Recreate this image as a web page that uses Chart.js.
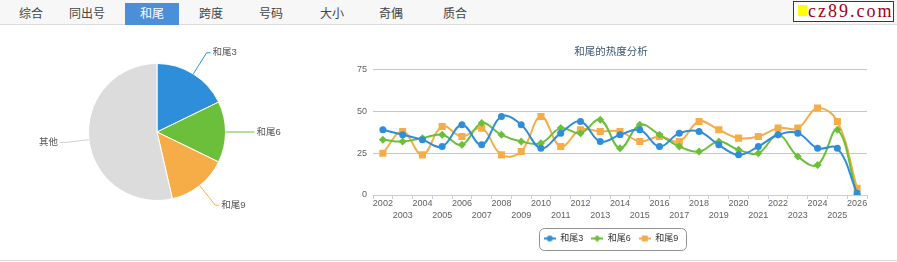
<!DOCTYPE html>
<html>
<head>
<meta charset="utf-8">
<script src="https://cdn.jsdelivr.net/npm/chart.js@4"></script>
<style>
  html, body { margin: 0; padding: 0; background: #fff; }
  body { width: 897px; height: 262px; position: relative; overflow: hidden;
         font-family: "Liberation Sans", "Noto Sans CJK SC", sans-serif; }
  #tabs { position: absolute; left: 0; top: 0; width: 897px; height: 24px;
          background: #f7f7f7; border-bottom: 1px solid #dcdcdc; }
  .tab { position: absolute; top: 3px; height: 22px; line-height: 22px; width: 60px;
         text-align: center; font-size: 12px; color: #444; }
  .tab.active { background: #4a8fd8; color: #fff; width: 54px; }
  #logo { position: absolute; left: 793px; top: 1px; width: 101px; height: 21px; box-sizing: border-box;
          border: 1px solid #b0001e; background: #fff; }
  #logo i { position: absolute; left: 4px; top: 3px; width: 9px; height: 11px; background: #ffff00; }
  #logo span { position: absolute; left: 14px; top: -1px; font-family: "Liberation Serif", serif;
               font-size: 18px; line-height: 20px; letter-spacing: 2px; color: #a0001a; }
  #pieBox { position: absolute; left: 0; top: 29px; width: 314px; height: 206px; }
  #lineBox { position: absolute; left: 354px; top: 30px; width: 518px; height: 230px; }
  #bottomLine { position: absolute; left: 0; top: 260px; width: 897px; border-top: 1px solid #dcdcdc; }
</style>
</head>
<body>
<div id="tabs">
  <div class="tab" style="left:1px">综合</div>
  <div class="tab" style="left:57px">同出号</div>
  <div class="tab active" style="left:125px">和尾</div>
  <div class="tab" style="left:181px">跨度</div>
  <div class="tab" style="left:241px">号码</div>
  <div class="tab" style="left:302px">大小</div>
  <div class="tab" style="left:361px">奇偶</div>
  <div class="tab" style="left:425px">质合</div>
</div>
<div id="logo"><i></i><span>cz89.com</span></div>
<div id="pieBox"><canvas id="pieChart"></canvas></div>
<div id="lineBox"><canvas id="lineChart"></canvas></div>
<div id="bottomLine"></div>

<script>
// datos
const years = ["2002","2003","2004","2005","2006","2007","2008","2009","2010","2011","2012","2013",
  "2014","2015","2016","2017","2018","2019","2020","2021","2022","2023","2024","2025","2026"];
const heWei3 = [39,36,33,29,42,30,47,42,28,37,44,32,36,39,29,37,38,30,24,29,36,37,28,28,1];
const heWei6 = [33,32,34,36,30,43,36,32,31,40,37,45,28,42,36,29,26,32,27,25,36,23,18,39,0];
const heWei9 = [25,38,24,41,35,40,24,26,47,29,39,38,38,32,35,32,44,39,34,35,40,40,52,44,4];
const yTicks = [0, 25, 50, 75];

const pieLabels = ["和尾3", "和尾6", "和尾9", "其他"];
const pieValues = [17.8, 14.4, 14.2, 53.6];

const azul = "#2f8ed9";
const verde = "#6cbf3b";
const naranja = "#f6ad47";
const gris = "#dcdcdc";
const fuente = '"Liberation Sans", "Noto Sans CJK SC", sans-serif';

// ---------- torta ----------
const pieLabelPlugin = {
  id: "pieLabels",
  afterDraw(chart) {
    const ctx = chart.ctx;
    const arcs = chart.getDatasetMeta(0).data;
    const colores = chart.data.datasets[0].backgroundColor;
    ctx.save();
    ctx.font = "9.5px " + fuente;
    ctx.textBaseline = "middle";
    arcs.forEach((arc, i) => {
      const a = (arc.startAngle + arc.endAngle) / 2;
      const r = arc.outerRadius;
      const cos = Math.cos(a), sin = Math.sin(a);
      const x0 = arc.x + r * cos, y0 = arc.y + r * sin;
      const x1 = arc.x + (r + 25) * cos, y1 = arc.y + (r + 25) * sin;
      const dir = cos >= 0 ? 1 : -1;
      const x2 = x1 + dir * 4;
      ctx.strokeStyle = i === 3 ? "#cfcfcf" : colores[i];
      ctx.lineWidth = 1;
      ctx.beginPath();
      ctx.moveTo(x0, y0);
      ctx.quadraticCurveTo(arc.x + (r + 18) * cos, arc.y + (r + 18) * sin, x1, y1);
      ctx.lineTo(x2, y1);
      ctx.stroke();
      ctx.fillStyle = "#555";
      ctx.textAlign = dir > 0 ? "left" : "right";
      ctx.fillText(chart.data.labels[i], x2 + dir * 2, y1);
    });
    ctx.restore();
  }
};

new Chart(document.querySelector("#pieChart"), {
  type: "pie",
  data: {
    labels: pieLabels,
    datasets: [{
      data: pieValues,
      backgroundColor: [azul, verde, naranja, gris],
      borderColor: "#fff",
      borderWidth: 1
    }]
  },
  options: {
    responsive: true,
    maintainAspectRatio: false,
    animation: false,
    events: [],
    layout: { padding: { top: 34, bottom: 34 } },
    plugins: { legend: { display: false }, tooltip: { enabled: false } }
  },
  plugins: [pieLabelPlugin]
});

// ---------- lineas ----------
function iconoLeyenda(color, forma) {
  const c = document.createElement("canvas");
  c.width = 12; c.height = 8;
  const g = c.getContext("2d");
  g.strokeStyle = color; g.fillStyle = color; g.lineWidth = 2;
  g.beginPath(); g.moveTo(0, 4); g.lineTo(12, 4); g.stroke();
  g.beginPath();
  if (forma === "circle") g.arc(6, 4, 3, 0, Math.PI * 2);
  else if (forma === "rect") g.rect(3, 1, 6, 6);
  else { g.moveTo(6, 0.5); g.lineTo(9.5, 4); g.lineTo(6, 7.5); g.lineTo(2.5, 4); g.closePath(); }
  g.fill();
  return c;
}

const legendBoxPlugin = {
  id: "legendBox",
  afterDraw(chart) {
    const boxes = chart.legend.legendHitBoxes;
    if (!boxes || !boxes.length) return;
    let left = Infinity, right = -Infinity, top = Infinity, bottom = -Infinity;
    boxes.forEach(b => {
      left = Math.min(left, b.left); right = Math.max(right, b.left + b.width);
      top = Math.min(top, b.top); bottom = Math.max(bottom, b.top + b.height);
    });
    const cy = (top + bottom) / 2;
    const ctx = chart.ctx;
    ctx.save();
    ctx.strokeStyle = "#909090";
    ctx.lineWidth = 1;
    ctx.beginPath();
    ctx.roundRect(Math.round(left - 5) + 0.5, Math.round(cy - 11) + 0.5, Math.round(right - left + 12), 22, 5);
    ctx.stroke();
    ctx.restore();
  }
};

const serie = (label, data, color, forma, radio) => ({
  label,
  data,
  borderColor: color,
  backgroundColor: color,
  borderWidth: 2,
  tension: 0.4,
  pointStyle: forma,
  pointRadius: radio,
  pointBorderWidth: 0,
  legendIcon: iconoLeyenda(color, forma)
});

new Chart(document.querySelector("#lineChart"), {
  type: "line",
  data: {
    labels: years,
    datasets: [
      serie("和尾3", heWei3, azul, "circle", 3.5),
      serie("和尾6", heWei6, verde, "rectRot", 4),
      serie("和尾9", heWei9, naranja, "rect", 5)
    ]
  },
  options: {
    responsive: true,
    maintainAspectRatio: false,
    animation: false,
    events: [],
    layout: { padding: { right: 4, bottom: 7 } },
    scales: {
      x: {
        offset: true,
        afterFit: s => { s.height = 31; },
        grid: { offset: true, drawOnChartArea: false, drawTicks: true, tickLength: 4, color: "#c0d0e0" },
        border: { color: "#c0d0e0" },
        ticks: {
          autoSkip: false,
          maxRotation: 0,
          padding: -2,
          color: "#606060",
          font: { family: fuente, size: 9, lineHeight: 1.35 },
          callback: function(v, i) {
            const t = this.getLabelForValue(v);
            return i % 2 === 0 ? [t] : ["", t];
          }
        }
      },
      y: {
        min: 0,
        max: 75,
        afterFit: s => { s.width = 19; },
        afterBuildTicks: s => { s.ticks = yTicks.map(v => ({ value: v })); },
        border: { display: false },
        grid: {
          drawTicks: false,
          color: c => (c.tick && c.tick.value === 0 ? "rgba(0,0,0,0)" : "#c8c8c8")
        },
        ticks: { padding: 6, color: "#606060", font: { family: fuente, size: 9 } }
      }
    },
    plugins: {
      tooltip: { enabled: false },
      title: {
        display: true,
        text: "和尾的热度分析",
        color: "#3e576f",
        font: { family: fuente, size: 10.5, weight: "normal" },
        padding: { top: 16, bottom: 11 }
      },
      legend: {
        position: "bottom",
        labels: {
          usePointStyle: true,
          pointStyleWidth: 12,
          padding: 8,
          color: "#333",
          font: { family: fuente, size: 9 },
          generateLabels: chart => chart.data.datasets.map((d, i) => ({
            text: d.label,
            pointStyle: d.legendIcon,
            fontColor: "#333",
            strokeStyle: d.borderColor,
            fillStyle: d.borderColor,
            lineWidth: 0,
            datasetIndex: i,
            hidden: false
          }))
        }
      }
    }
  },
  plugins: [legendBoxPlugin]
});
</script>
</body>
</html>
